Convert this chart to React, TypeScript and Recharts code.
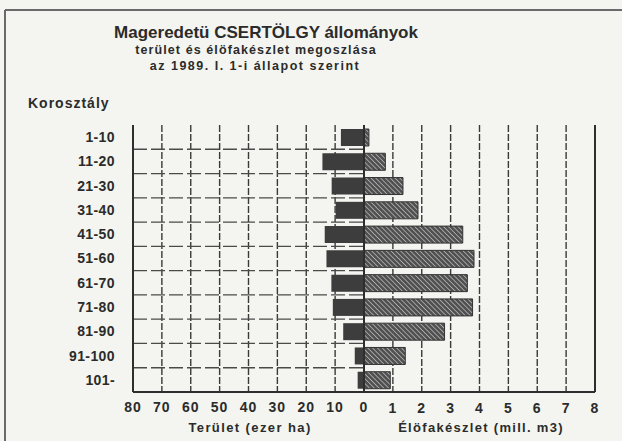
import React from 'react';
import { BarChart, Bar, XAxis, YAxis, CartesianGrid, ReferenceLine } from 'recharts';

const ageClasses = ['1-10', '11-20', '21-30', '31-40', '41-50', '51-60', '61-70', '71-80', '81-90', '91-100', '101-'];
const areaThousandHa = [8, 14.4, 11.2, 9.8, 13.6, 13.0, 11.3, 10.8, 7.2, 3.2, 2.2];
const stockMillM3 = [0.17, 0.74, 1.35, 1.87, 3.42, 3.81, 3.58, 3.76, 2.79, 1.43, 0.91];
const areaTicks = [80, 70, 60, 50, 40, 30, 20, 10, 0];
const stockTicks = [1, 2, 3, 4, 5, 6, 7, 8];

const rows = ageClasses.map((age, i) => ({ age, area: areaThousandHa[i], stock: stockMillM3[i] }));

const FONT = '"Liberation Sans", Arial, sans-serif';
const INK = '#2b2b2b';
const BG = '#f4f5f0';

const tickStyle = { fill: INK, fontSize: 14, fontWeight: 700, fontFamily: FONT, letterSpacing: 1 };

const halfLine = (p: any) => (
  <line
    key={p.key ?? `h-${p.index}`}
    x1={p.x1}
    y1={p.y1}
    x2={(p.x1 + p.x2) / 2}
    y2={p.y2}
    stroke="#4a4a4a"
    strokeWidth={1.3}
    strokeDasharray="14 4"
  />
);

const bandBoundaries = ({ offset }: any) => {
  const n = ageClasses.length;
  const out: number[] = [];
  for (let i = 1; i < n; i++) out.push(offset.top + (offset.height * i) / n);
  return out;
};

export default function App() {
  return (
    <div style={{ position: 'fixed', left: 0, top: 0, width: 622, height: 441, background: BG, overflow: 'hidden' }}>
      <div style={{ position: 'absolute', left: 0, top: 0 }}>
        <BarChart
          width={622}
          height={441}
          layout="vertical"
          data={rows}
          barSize={17}
          margin={{ top: 125, right: 27, bottom: 47, left: 0 }}
        >
          <defs>
            <pattern id="hatch" patternUnits="userSpaceOnUse" width="3.4" height="3.4" patternTransform="rotate(-45)">
              <rect width="3.4" height="3.4" fill="#505050" />
              <line x1="0" y1="0" x2="0" y2="3.4" stroke="#c2c2c2" strokeWidth="1.4" />
            </pattern>
          </defs>
          <CartesianGrid xAxisId="area" horizontal={false} stroke="#3a3a3a" strokeWidth={1.4} strokeDasharray="7 2" />
          <CartesianGrid xAxisId="stock" horizontal={false} stroke="#3a3a3a" strokeWidth={1.4} strokeDasharray="7 2" />
          <CartesianGrid vertical={false} horizontalCoordinatesGenerator={bandBoundaries} horizontal={halfLine} />
          <XAxis
            xAxisId="area"
            type="number"
            domain={[-80, 80]}
            reversed
            ticks={areaTicks}
            interval={0}
            height={1}
            tickSize={0}
            tickMargin={10}
            axisLine={{ stroke: '#2e2e2e', strokeWidth: 2 }}
            tick={tickStyle}
          />
          <XAxis
            xAxisId="stock"
            type="number"
            domain={[-8, 8]}
            ticks={stockTicks}
            interval={0}
            height={1}
            tickSize={0}
            tickMargin={10}
            axisLine={false}
            tick={tickStyle}
          />
          <YAxis
            type="category"
            dataKey="age"
            width={133}
            tickSize={0}
            tickMargin={18}
            axisLine={{ stroke: '#2e2e2e', strokeWidth: 2 }}
            tick={{ ...tickStyle, letterSpacing: 0.4 }}
            interval={0}
          />
          <Bar xAxisId="area" dataKey="area" stackId="s" fill="#3d3d3d" isAnimationActive={false} />
          <Bar xAxisId="stock" dataKey="stock" stackId="s" fill="url(#hatch)" stroke="#333" strokeWidth={1} isAnimationActive={false} />
          <ReferenceLine xAxisId="stock" x={0} stroke="#2e2e2e" strokeWidth={2} />
          <ReferenceLine xAxisId="stock" x={8} stroke="#2e2e2e" strokeWidth={2} />
        </BarChart>
      </div>
      <svg width={622} height={441} style={{ position: 'absolute', left: 0, top: 0, pointerEvents: 'none' }}>
        <line x1={5} y1={10} x2={622} y2={10} stroke="#6a6a6a" strokeWidth={2} />
        <line x1={5} y1={10} x2={5} y2={441} stroke="#6a6a6a" strokeWidth={2} />
        <g fontFamily={FONT} fontWeight={700} fill={INK}>
          <text x={266} y={38} textAnchor="middle" fontSize={17}>Mageredetü CSERTÖLGY állományok</text>
          <text x={256} y={54} textAnchor="middle" fontSize={12.5} letterSpacing={1.1}>terület és élöfakészlet megoszlása</text>
          <text x={255} y={69.5} textAnchor="middle" fontSize={12.5} letterSpacing={1.5}>az 1989. I. 1-i állapot szerint</text>
          <text x={28} y={108} fontSize={14} letterSpacing={1}>Korosztály</text>
          <text x={250} y={432} textAnchor="middle" fontSize={13} letterSpacing={1.4}>Terület (ezer ha)</text>
          <text x={481} y={432} textAnchor="middle" fontSize={13} letterSpacing={1.3}>Élöfakészlet (mill. m3)</text>
        </g>
      </svg>
    </div>
  );
}
